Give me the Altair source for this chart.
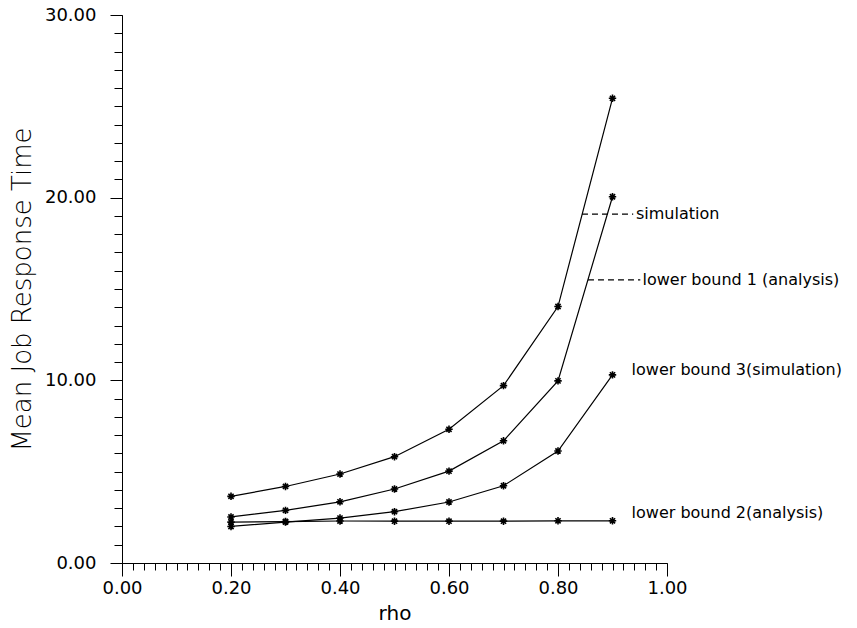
import altair as alt
import pandas as pd

rho = [0.2, 0.3, 0.4, 0.5, 0.6, 0.7, 0.8, 0.9]
simulation = [3.65, 4.19, 4.87, 5.82, 7.32, 9.71, 14.04, 25.44]
lower_bound_1 = [2.52, 2.88, 3.35, 4.05, 5.03, 6.69, 9.97, 20.05]
lower_bound_3 = [2.00, 2.24, 2.46, 2.81, 3.34, 4.23, 6.13, 10.30]
lower_bound_2 = [2.24, 2.27, 2.30, 2.29, 2.29, 2.29, 2.31, 2.31]

series_names = ["simulation", "lower bound 1 (analysis)",
                "lower bound 3(simulation)", "lower bound 2(analysis)"]
series_values = [simulation, lower_bound_1, lower_bound_3, lower_bound_2]

x_major = [0.0, 0.2, 0.4, 0.6, 0.8, 1.0]
x_minor = [round(i * 0.02, 2) for i in range(51)]
y_major = [0, 10, 20, 30]
y_minor = list(range(31))

# annotation labels (text, x, y) and dashed leaders (x start, x end, y)
ann_text = ["simulation", "lower bound 1 (analysis)",
            "lower bound 3(simulation)", "lower bound 2(analysis)"]
ann_x = [0.943, 0.955, 0.935, 0.935]
ann_y = [19.1, 15.5, 10.55, 2.75]
lead_x1 = [0.844, 0.855]
lead_x2 = [0.938, 0.951]
lead_y = [19.1, 15.5]

rows = []
for name, vals in zip(series_names, series_values):
    for xv, yv in zip(rho, vals):
        rows.append({"series": name, "rho": xv, "value": yv})
df = pd.DataFrame(rows)

ann_df = pd.DataFrame({"text": ann_text, "x": ann_x, "y": ann_y})
lead_df = pd.DataFrame({"x1": lead_x1, "x2": lead_x2, "y": lead_y})

FONT = "DejaVu Sans"
xscale = alt.Scale(domain=[0, 1], nice=False, zero=False)
yscale = alt.Scale(domain=[0, 30], nice=False, zero=False)

x_axis = alt.Axis(values=x_major, format=".2f", tickSize=13, labelPadding=3,
                  labelFlush=False, labelOverlap=False,
                  orient="bottom", labelFontSize=18, labelFont=FONT,
                  labelColor="black", tickColor="black", domainColor="black",
                  title="rho", titleFontSize=20, titleFont=FONT, titleFontWeight="normal",
                  titleColor="black", titleY=40, titleBaseline="top", grid=False)
y_axis = alt.Axis(values=y_major, format=".2f", tickSize=12, labelPadding=14,
                  labelFlush=False, labelOverlap=False,
                  orient="left", labelFontSize=18, labelFont=FONT,
                  labelColor="black", tickColor="black", domainColor="black",
                  title="Mean Job Response Time", titleFontSize=26, titleFont=FONT,
                  titleFontWeight=200, titleColor="black",
                  titleX=-87, titleY=274, grid=False)

lines = alt.Chart(df).mark_line(color="black", strokeWidth=1.2).encode(
    x=alt.X("rho:Q", scale=xscale, axis=x_axis),
    y=alt.Y("value:Q", scale=yscale, axis=y_axis),
    detail="series:N",
)

star = "M-1,0L1,0M0,-1L0,1M-0.7,-0.7L0.7,0.7M-0.7,0.7L0.7,-0.7"
points = alt.Chart(df).mark_point(shape=star, filled=False, color="black",
                                  strokeWidth=1.6, size=55, opacity=1).encode(
    x=alt.X("rho:Q", scale=xscale, axis=None),
    y=alt.Y("value:Q", scale=yscale, axis=None),
)

minor = alt.Chart(df).mark_point(opacity=0).encode(
    x=alt.X("rho:Q", scale=xscale,
            axis=alt.Axis(values=x_minor, tickSize=7, labels=False, domain=False,
                          title=None, orient="bottom", tickColor="black", grid=False)),
    y=alt.Y("value:Q", scale=yscale,
            axis=alt.Axis(values=y_minor, tickSize=8, labels=False, domain=False,
                          title=None, orient="left", tickColor="black", grid=False)),
)

leaders = alt.Chart(lead_df).mark_rule(color="black", strokeWidth=1.1,
                                       strokeDash=[6, 4]).encode(
    x=alt.X("x1:Q", scale=xscale, axis=None), x2="x2:Q",
    y=alt.Y("y:Q", scale=yscale, axis=None),
)

labels = alt.Chart(ann_df).mark_text(align="left", baseline="middle", fontSize=16,
                                     font=FONT, color="black").encode(
    x=alt.X("x:Q", scale=xscale, axis=None),
    y=alt.Y("y:Q", scale=yscale, axis=None),
    text="text:N",
)

chart = alt.layer(minor, lines, points, leaders, labels).resolve_axis(
    x="independent", y="independent"
).properties(
    width=545, height=548,
    autosize=alt.AutoSizeParams(type="none"),
    padding={"left": 122, "top": 15, "right": 190, "bottom": 65},
    background="white",
).configure_view(stroke=None)

chart.save("out.html", embed_options={"renderer": "svg", "actions": False})
